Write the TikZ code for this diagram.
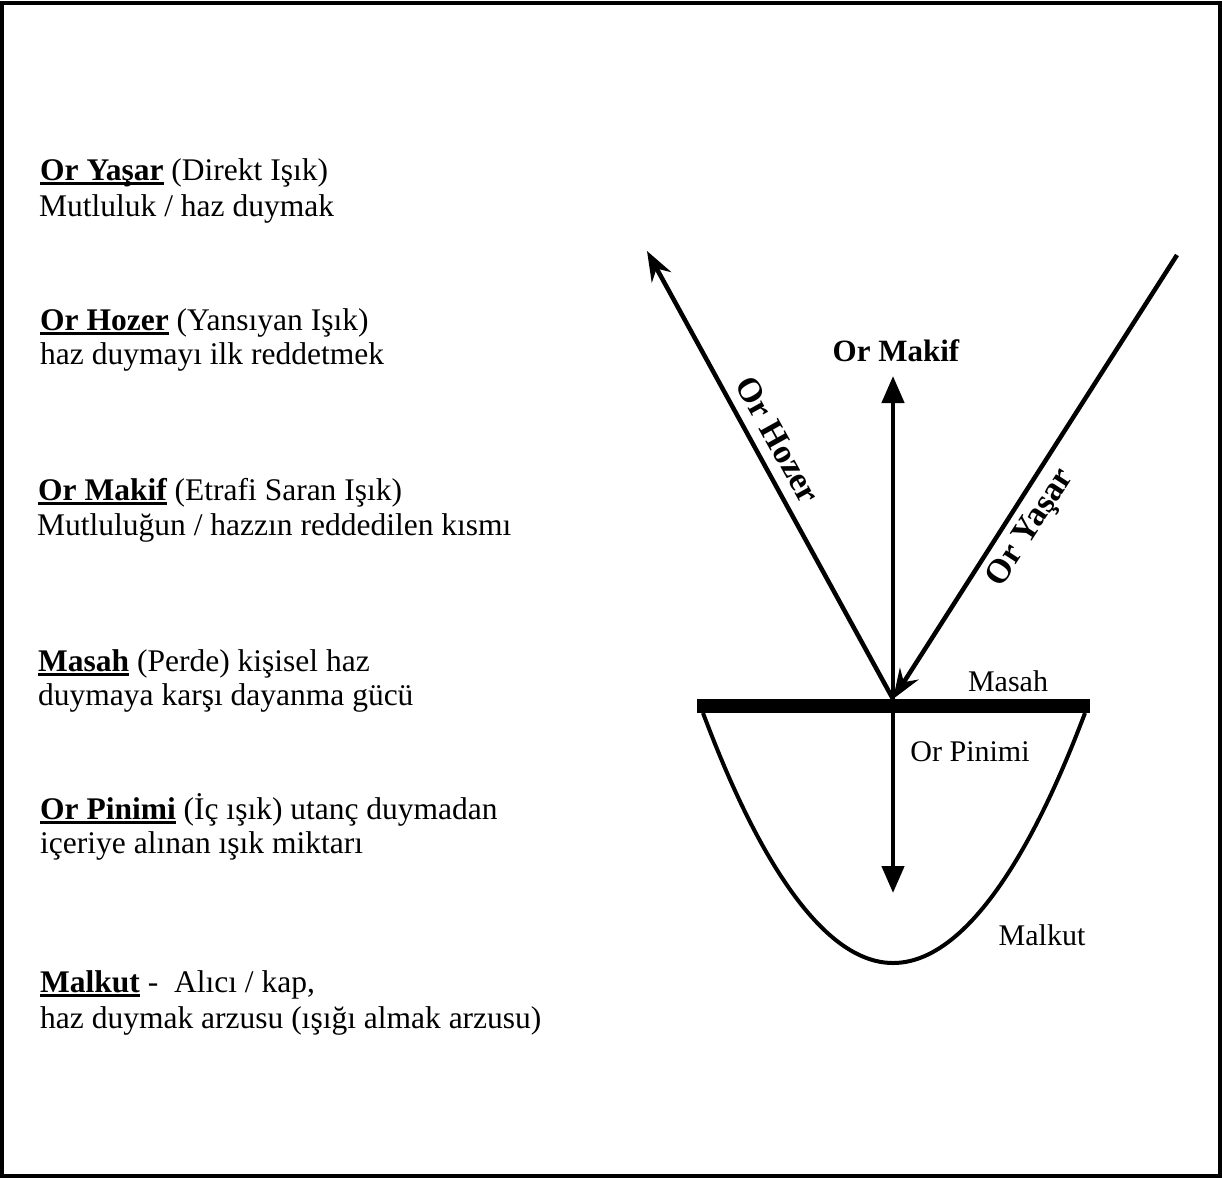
\documentclass[tikz,border=0pt]{standalone}
\usepackage{fontspec}
\setmainfont{Liberation Serif}
\usetikzlibrary{arrows.meta}
\newcommand\ulbold[1]{\setbox0\hbox{\bfseries #1}\rlap{\rule[-4.5pt]{\wd0}{2.6pt}}\box0\relax}
\begin{document}
\begin{tikzpicture}[x=1pt,y=-1pt,
  txt/.style={font=\fontsize{31.5}{36}\selectfont, inner sep=0pt, anchor=base west},
  lbl/.style={font=\fontsize{30}{36}\selectfont, inner sep=0pt},
  blbl/.style={font=\fontsize{31}{36}\selectfont\bfseries, inner sep=0pt},
  rlbl/.style={font=\fontsize{34}{38}\selectfont\bfseries, inner sep=0pt},
  ray/.style={line width=4.5pt},
  tri/.style={-{Triangle[length=27pt,width=22pt]}},
  barb/.style={-{Stealth[length=30pt,width=22pt,inset=10pt]}}]

\useasboundingbox (0,0) rectangle (1222,1178);
\fill[white] (0,0) rectangle (1222,1178);
\draw[line width=4pt] (2,2.5) rectangle (1220,1176);

% left legend
\node[txt] (yasarA) at (40,180) {\ulbold{Or Yaşar} (Direkt Işık)};
\node[txt] (yasarB) at (39,216) {Mutluluk / haz duymak};
\node[txt] (hozerA) at (40,330) {\ulbold{Or Hozer} (Yansıyan Işık)};
\node[txt] (hozerB) at (40,364) {haz duymayı ilk reddetmek};
\node[txt] (makifA) at (38,500) {\ulbold{Or Makif} (Etrafi Saran Işık)};
\node[txt] (makifB) at (37,535) {Mutluluğun / hazzın reddedilen kısmı};
\node[txt] (masahA) at (38,671) {\ulbold{Masah} (Perde) kişisel haz};
\node[txt] (masahB) at (38,705) {duymaya karşı dayanma gücü};
\node[txt] (pinimiA) at (40,819) {\ulbold{Or Pinimi} (İç ışık) utanç duymadan};
\node[txt] (pinimiB) at (40,853) {içeriye alınan ışık miktarı};
\node[txt] (malkutA) at (40,992) {\ulbold{Malkut} -\ \ Alıcı / kap,};
\node[txt] (malkutB) at (40,1028) {haz duymak arzusu (ışığı almak arzusu)};

% diagram
\coordinate (hit) at (893,699);
\coordinate (barMid) at (893,706);
\coordinate (hozerTip) at (647,251);
\coordinate (yasarStart) at (1177,255);
\coordinate (makifTip) at (893,376);
\coordinate (pinimiTip) at (893,893);
\coordinate (barL) at (697,706);
\coordinate (barR) at (1090,706);
\coordinate (cupL) at (703,713);
\coordinate (cupB) at (893,963);
\coordinate (cupR) at (1085,713);

\draw[line width=4pt] (cupL) parabola bend (cupB) (cupR);
\draw[line width=14pt] (barL) -- (barR);
\draw[ray, tri] (hit) -- (makifTip);
\draw[ray, tri] (barMid) -- (pinimiTip);
\draw[ray, barb] (hit) -- (hozerTip);
\draw[ray, barb] (yasarStart) -- (hit);

\node[blbl] (makifLbl) at (896,351) {Or Makif};
\node[rlbl, rotate=-61] (hozerLbl) at (778,440) {Or Hozer};
\node[rlbl, rotate=57] (yasarLbl) at (1031,528) {Or Yaşar};
\node[lbl] (masahLbl) at (1008,681) {Masah};
\node[lbl] (pinimiLbl) at (970,752) {Or Pinimi};
\node[lbl] (malkutLbl) at (1042,935) {Malkut};
\end{tikzpicture}
\end{document}
